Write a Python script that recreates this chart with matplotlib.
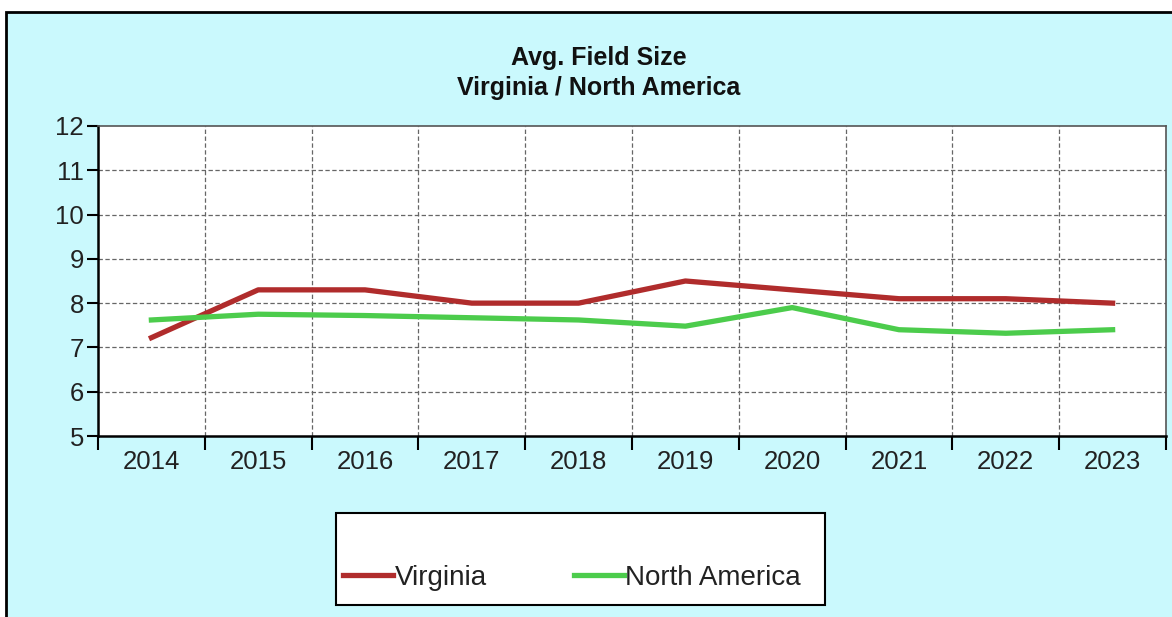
import matplotlib.pyplot as plt
from matplotlib.patches import Rectangle

years = ["2014", "2015", "2016", "2017", "2018", "2019", "2020", "2021", "2022", "2023"]
virginia = [7.22, 8.3, 8.3, 8.0, 8.0, 8.5, 8.3, 8.1, 8.1, 8.0]
north_america = [7.62, 7.75, 7.72, 7.67, 7.62, 7.48, 7.9, 7.4, 7.32, 7.4]

W, H = 1172, 617
BG = "#caf9fd"

plt.rcParams["font.family"] = ["Liberation Sans", "DejaVu Sans"]

fig = plt.figure(figsize=(W / 100, H / 100), dpi=100)
fig.patch.set_facecolor("white")

# cyan panel with black border, running off the right/bottom edge
fig.patches.append(Rectangle((6 / W, -0.05), 1.1, 1 - 12 / H + 0.05,
                             transform=fig.transFigure, facecolor=BG,
                             edgecolor="black", linewidth=2, zorder=-2))

ax = fig.add_axes([98 / W, 1 - 436 / H, (1166 - 98) / W, (436 - 126) / H])
ax.set_zorder(1)
ax.set_facecolor("white")

x = range(len(years))
ax.plot(x, virginia, color="#b02c2c", lw=3.8, label="Virginia", zorder=3)
ax.plot(x, north_america, color="#4ccc4c", lw=3.8, label="North America", zorder=3)

ax.set_xlim(-0.5, len(years) - 0.5)
ax.set_ylim(5, 12)
ax.set_yticks(range(5, 13))
ax.set_xticks(x)
ax.set_xticklabels(years)
ax.set_xticks([i + 0.5 for i in range(-1, len(years))], minor=True)

ax.grid(False)
for b in [i + 0.5 for i in range(len(years) - 1)]:
    ax.axvline(b, color="#666666", lw=0.9, ls=(0, (3.5, 2)), zorder=1)
for v in range(6, 12):
    ax.axhline(v, color="#666666", lw=0.9, ls=(0, (3.5, 2)), zorder=1)

ax.tick_params(axis="x", which="major", length=0, pad=10, labelsize=18.5,
               labelcolor="#222222")
ax.tick_params(axis="x", which="minor", length=10, width=1.5, color="black")
ax.tick_params(axis="y", length=8, width=1.5, pad=2, labelsize=18.5,
               labelcolor="#222222")

for side in ("left", "bottom"):
    ax.spines[side].set_linewidth(1.8)
    ax.spines[side].set_color("black")
for side in ("top", "right"):
    ax.spines[side].set_linewidth(1.2)
    ax.spines[side].set_color("#555555")

fig.text(599 / W, 1 - 73 / H, "Avg. Field Size\nVirginia / North America",
         ha="center", va="center", fontsize=18, fontweight="bold",
         linespacing=1.35, color="#111111")

# legend box
fig.patches.append(Rectangle((336 / W, 1 - 605 / H), (825 - 336) / W, (605 - 513) / H,
                             transform=fig.transFigure, facecolor="white",
                             edgecolor="black", linewidth=1.5, zorder=-1))
fig.legend(loc="center left", bbox_to_anchor=(343 / W, 1 - 578 / H),
           ncol=2, frameon=False, fontsize=20, handlelength=1.8,
           handletextpad=0.05, columnspacing=3.15, borderaxespad=0, borderpad=0,
           labelcolor="#222222")

fig.savefig("out.png", dpi=100)
